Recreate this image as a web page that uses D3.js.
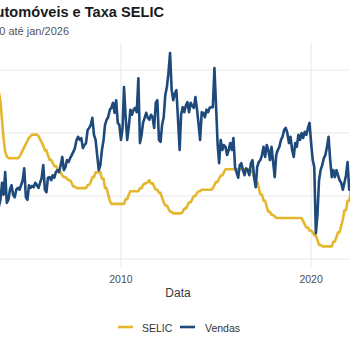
<!DOCTYPE html>
<html><head><meta charset="utf-8">
<script src="https://cdn.jsdelivr.net/npm/d3@7"></script>
<style>body{margin:0;background:#fff}svg{display:block;font-family:"Liberation Sans",Arial,sans-serif}</style>
</head><body>
<svg id="chart" width="350" height="350"></svg>
<script>
// ---- Data (monthly, starting jun/2003) ----
const startMonth = "2003-06";
const selic = [
  26.5, 26.5, 26.5, 25, 22, 19, 17,
  16.3, 16, 16, 16, 16, 16, 16, 16, 16.25, 16.75, 17.25, 17.75,
  18.25, 18.75, 19.25, 19.5, 19.75, 19.75, 19.75, 19.75, 19.5, 19, 18.5, 18,
  17.25, 17.25, 16.5, 15.75, 15.75, 15.25, 14.75, 14.75, 14.25, 13.75, 13.75, 13.25,
  13, 13, 12.75, 12.5, 12.5, 12, 11.5, 11.5, 11.25, 11.25, 11.25, 11.25,
  11.25, 11.25, 11.25, 11.75, 11.75, 12.25, 13, 13, 13.75, 13.75, 13.75, 13.75,
  12.75, 12.75, 11.25, 11.25, 10.25, 9.25, 8.75, 8.75, 8.75, 8.75, 8.75, 8.75,
  8.75, 8.75, 8.75, 9.5, 9.5, 10.25, 10.75, 10.75, 10.75, 10.75, 10.75, 10.75,
  11.25, 11.25, 11.75, 12, 12, 12.25, 12.5, 12, 12, 11.5, 11, 11,
  10.5, 10.5, 9.75, 9, 8.5, 8.5, 8, 7.5, 7.5, 7.25, 7.25, 7.25,
  7.25, 7.25, 7.25, 7.5, 8, 8, 8.5, 9, 9, 9.5, 10, 10,
  10.5, 10.75, 10.75, 11, 11, 11, 11, 11, 11, 11, 11.25, 11.75,
  12.25, 12.25, 12.75, 13.25, 13.25, 13.75, 14.25, 14.25, 14.25, 14.25, 14.25, 14.25,
  14.25, 14.25, 14.25, 14.25, 14.25, 14.25, 14.25, 14.25, 14.25, 14.25, 14, 13.75,
  13, 12.25, 12.25, 11.25, 10.25, 10.25, 9.25, 9.25, 8.25, 7.5, 7.5, 7,
  7, 6.75, 6.5, 6.5, 6.5, 6.5, 6.5, 6.5, 6.5, 6.5, 6.5, 6.5,
  6.5, 6.5, 6.5, 6.5, 6.5, 6.5, 6.5, 6, 5.5, 5, 5, 4.5,
  4.5, 4.25, 3.75, 3.75, 3, 2.25, 2.25, 2, 2, 2, 2, 2,
  2, 2, 2.75, 2.75, 3.5, 4.25, 4.25, 5.25, 6.25, 7.75, 7.75, 9.25,
  9.25, 10.75
];
// Vendas, rescaled to the SELIC axis
const vendas = [
  9.4, 10.2, 8.3, 9.4, 12.1, 10.2, 13.8,
  8.9, 9.4, 11.0, 11.7, 10.2, 9.8, 11.0, 11.3, 11.0, 11.7, 12.5, 14.4,
  9.8, 9.4, 11.7, 11.3, 11.6, 11.4, 12.1, 11.7, 11.3, 12.1, 12.9, 14.9,
  11.0, 10.6, 12.9, 13.0, 12.5, 13.3, 12.9, 13.8, 14.1, 13.8, 14.9, 16.2,
  14.1, 14.6, 15.7, 15.4, 16.0, 16.5, 17.0, 17.6, 18.9, 19.4, 18.9, 19.2,
  17.6, 18.1, 18.4, 20.5, 20.8, 21.3, 22.4, 19.7, 18.9, 16.5, 14.1, 14.9,
  17.3, 18.9, 21.3, 22.1, 22.5, 23.7, 24.0, 24.8, 23.2, 25.2, 21.6, 21.3,
  18.9, 20.8, 27.3, 22.5, 18.9, 21.0, 23.7, 22.9, 23.7, 24.0, 23.3, 28.7,
  18.4, 19.7, 21.6, 22.4, 23.2, 22.4, 22.1, 22.9, 22.5, 20.8, 24.8, 25.2,
  18.9, 18.6, 21.3, 22.5, 26.0, 27.3, 29.5, 32.7, 26.8, 25.2, 26.3, 26.8,
  22.1, 17.3, 22.9, 24.1, 23.3, 24.4, 24.9, 23.3, 24.8, 24.3, 24.0, 25.7,
  23.7, 21.3, 18.9, 23.3, 23.2, 22.5, 23.7, 23.3, 24.0, 24.1, 24.1, 30.3,
  24.4, 18.1, 15.2, 18.9, 17.3, 18.1, 17.8, 16.5, 17.3, 18.4, 17.3, 19.2,
  14.6, 13.7, 12.9, 14.9, 15.2, 14.1, 13.3, 14.4, 14.1, 13.3, 15.2, 15.7,
  13.0, 11.4, 14.6, 15.4, 15.7, 16.5, 17.8, 16.2, 18.1, 17.3, 15.7, 17.8,
  15.4, 13.0, 16.5, 17.3, 17.8, 18.9, 19.4, 20.5, 20.8, 20.0, 18.4, 19.4,
  17.3, 16.2, 18.4, 17.8, 19.7, 18.9, 20.0, 19.2, 20.2, 19.7, 20.8, 21.6,
  18.4, 15.7, 14.6, 4.1, 7.0, 12.5, 14.1, 14.9, 16.0, 16.5, 17.8, 19.4,
  15.7, 13.0, 14.1, 13.0, 14.1, 13.3, 12.5, 12.1, 11.0, 12.1, 13.3, 15.4,
  11.0, 12.5
];
const seriesNames = ["SELIC", "Vendas"];
const xTickYears = ["2000", "2010", "2020"];
const yTickValues = [0, 10, 20, 30];
const periodStart = "2000-01";
const periodEnd = "2026-01";
const titleText = "Vendas de Automóveis e Taxa SELIC";
const subtitleText = "Série mensal de jan/2000 até jan/2026";
const xTitle = "Data";

// ---- Styles ----
const colors = {SELIC: "#E5B72E", Vendas: "#1D4A7B"};
const parseM = d3.timeParse("%Y-%m");
const parseY = d3.timeParse("%Y");

const svg = d3.select("#chart");
const panel = {left: -94, right: 450, top: 43, bottom: 267};

const t0 = parseM(periodStart), t1 = parseM(periodEnd);
const span = t1 - t0;
const x = d3.scaleTime()
  .domain([new Date(+t0 - 0.05 * span), new Date(+t1 + 0.05 * span)])
  .range([panel.left, panel.right]);
const y = d3.scaleLinear().domain([0, 30]).range([259, 70]);

const s0 = parseM(startMonth);
const months = d3.range(selic.length).map(i => d3.timeMonth.offset(s0, i));
const data = {
  SELIC: months.map((d, i) => ({date: d, v: selic[i]})),
  Vendas: months.map((d, i) => ({date: d, v: vendas[i]}))
};

// grid
const grid = svg.append("g");
grid.selectAll("line.h").data(yTickValues).join("line")
  .attr("x1", panel.left).attr("x2", panel.right)
  .attr("y1", d => y(d)).attr("y2", d => y(d))
  .attr("stroke", "#E8E8E8").attr("stroke-width", 1);
grid.selectAll("line.v").data(xTickYears).join("line")
  .attr("x1", d => x(parseY(d))).attr("x2", d => x(parseY(d)))
  .attr("y1", panel.top).attr("y2", panel.bottom)
  .attr("stroke", "#E8E8E8").attr("stroke-width", 1);

// lines
const line = d3.line().x(d => x(d.date)).y(d => y(d.v)).curve(d3.curveLinear);
seriesNames.forEach(name => {
  svg.append("path").datum(data[name])
    .attr("d", line).attr("fill", "none")
    .attr("stroke", colors[name]).attr("stroke-width", 2.6)
    .attr("stroke-linejoin", "round").attr("stroke-linecap", "round");
});

// x axis labels
svg.append("g").selectAll("text").data(xTickYears).join("text")
  .attr("x", d => x(parseY(d))).attr("y", 283)
  .attr("text-anchor", "middle").attr("font-size", 10.5).attr("fill", "#4D4D4D")
  .text(d => d);
svg.append("text").attr("x", (panel.left + panel.right) / 2).attr("y", 297)
  .attr("text-anchor", "middle").attr("font-size", 12).attr("fill", "#3A3A3A").text(xTitle);

// y axis labels (left of the visible area, as in the cropped original)
svg.append("g").selectAll("text").data(yTickValues).join("text")
  .attr("x", panel.left - 4).attr("y", d => y(d)).attr("dy", "0.35em")
  .attr("text-anchor", "end").attr("font-size", 10.5).attr("fill", "#4D4D4D").text(d => d);

// title / subtitle (the original is cropped on the left)
svg.append("text").attr("x", 164).attr("y", 17).attr("text-anchor", "end")
  .attr("font-size", 14.6).attr("font-weight", "bold").attr("fill", "#1A1A1A").text(titleText);
svg.append("text").attr("x", 69).attr("y", 35).attr("text-anchor", "end")
  .attr("font-size", 11).attr("fill", "#555").text(subtitleText);

// legend
const legendItems = [{name: "SELIC", x: 118}, {name: "Vendas", x: 180}];
const lg = svg.append("g").selectAll("g").data(legendItems).join("g")
  .attr("transform", d => `translate(${d.x},327)`);
lg.append("line").attr("x1", 0).attr("x2", 15).attr("y1", 0).attr("y2", 0)
  .attr("stroke", d => colors[d.name]).attr("stroke-width", 2.6);
lg.append("text").attr("x", d => d.name === "SELIC" ? 24 : 25).attr("y", 4.5)
  .attr("font-size", 10.5).attr("fill", "#333").text(d => d.name);
</script>
</body></html>
